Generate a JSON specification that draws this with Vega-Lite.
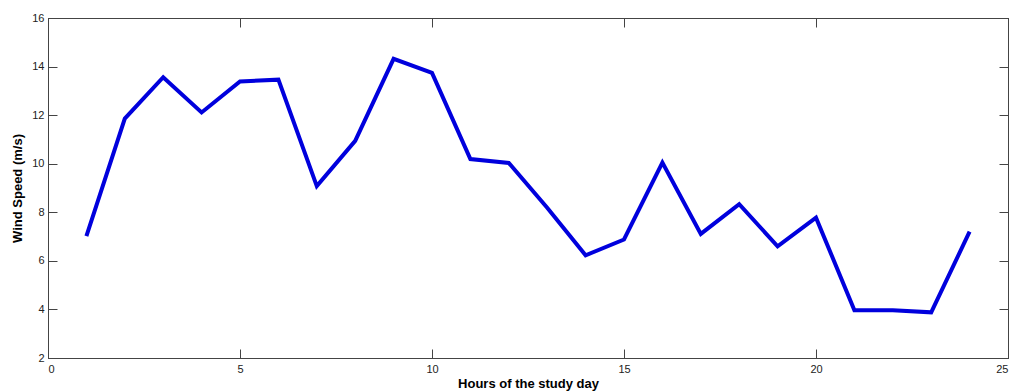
{
  "$schema": "https://vega.github.io/schema/vega-lite/v6.json",
  "width": 960,
  "height": 340,
  "autosize": {"type": "none"},
  "padding": {"left": 48, "top": 18, "right": 3, "bottom": 34},
  "background": "white",
  "config": {
    "view": {"stroke": "#222", "strokeWidth": 1},
    "font": "Liberation Sans",
    "axis": {
      "grid": false,
      "domainColor": "#444",
      "tickColor": "#444",
      "labelColor": "#222",
      "labelFont": "Liberation Sans",
      "labelFontSize": 11,
      "titleFont": "Liberation Sans",
      "titleFontSize": 13,
      "titleFontWeight": "bold",
      "titleColor": "#000",
      "tickSize": -9
    }
  },
  "data": {
    "values": [
      {"hour": 1, "speed": 7.02},
      {"hour": 2, "speed": 11.86},
      {"hour": 3, "speed": 13.56},
      {"hour": 4, "speed": 12.11},
      {"hour": 5, "speed": 13.39},
      {"hour": 6, "speed": 13.46},
      {"hour": 7, "speed": 9.08},
      {"hour": 8, "speed": 10.94},
      {"hour": 9, "speed": 14.32},
      {"hour": 10, "speed": 13.74},
      {"hour": 11, "speed": 10.19},
      {"hour": 12, "speed": 10.03},
      {"hour": 13, "speed": 8.19},
      {"hour": 14, "speed": 6.23},
      {"hour": 15, "speed": 6.88},
      {"hour": 16, "speed": 10.05},
      {"hour": 17, "speed": 7.11},
      {"hour": 18, "speed": 8.33},
      {"hour": 19, "speed": 6.6},
      {"hour": 20, "speed": 7.78},
      {"hour": 21, "speed": 3.97},
      {"hour": 22, "speed": 3.97},
      {"hour": 23, "speed": 3.88},
      {"hour": 24, "speed": 7.2}
    ]
  },
  "layer": [
    {
      "mark": {"type": "line", "color": "#0000dd", "strokeWidth": 4, "strokeJoin": "miter"},
      "encoding": {
        "x": {
          "field": "hour", "type": "quantitative",
          "scale": {"domain": [0, 25], "nice": false, "zero": false},
          "axis": {"orient": "bottom", "values": [0, 5, 10, 15, 20, 25], "title": "Hours of the study day", "labelPadding": 14, "titlePadding": 3}
        },
        "y": {
          "field": "speed", "type": "quantitative",
          "scale": {"domain": [2, 16], "nice": false, "zero": false},
          "axis": {"orient": "left", "values": [2, 4, 6, 8, 10, 12, 14, 16], "title": "Wind Speed (m/s)", "labelPadding": 13, "titlePadding": 7}
        }
      }
    },
    {
      "mark": {"type": "line", "opacity": 0},
      "encoding": {
        "x": {
          "field": "hour", "type": "quantitative",
          "scale": {"domain": [0, 25], "nice": false, "zero": false},
          "axis": {"orient": "top", "values": [0, 5, 10, 15, 20, 25], "labels": false, "title": null}
        },
        "y": {
          "field": "speed", "type": "quantitative",
          "scale": {"domain": [2, 16], "nice": false, "zero": false},
          "axis": {"orient": "right", "values": [2, 4, 6, 8, 10, 12, 14, 16], "labels": false, "title": null}
        }
      }
    }
  ],
  "resolve": {"axis": {"x": "independent", "y": "independent"}}
}
